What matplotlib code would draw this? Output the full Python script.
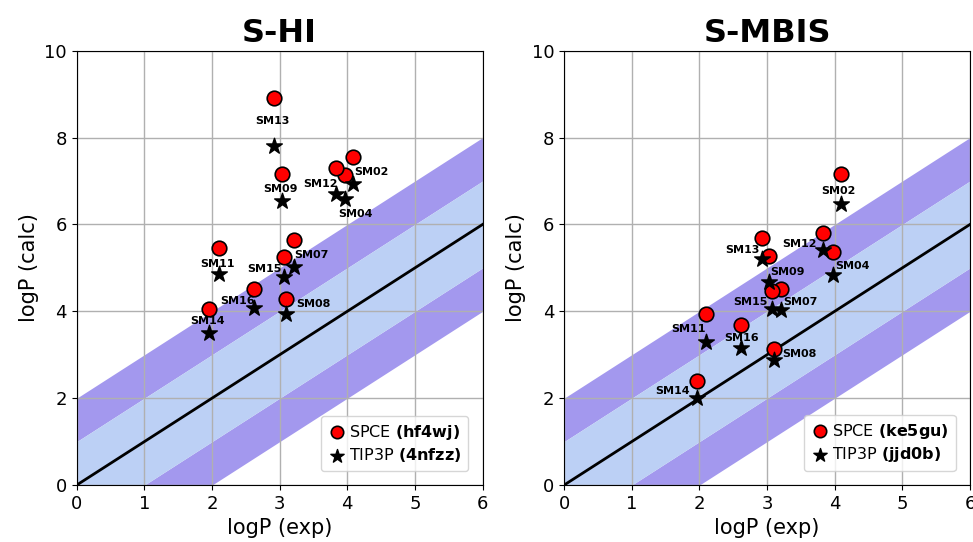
import numpy as np
import matplotlib
matplotlib.use("Agg")
import matplotlib.pyplot as plt

# molecules and experimental logP
names = ["SM02", "SM04", "SM07", "SM08", "SM09", "SM11", "SM12", "SM13", "SM14", "SM15", "SM16"]
logp_exp = [4.09, 3.97, 3.21, 3.10, 3.03, 2.10, 3.83, 2.92, 1.96, 3.07, 2.62]

# S-HI calculated logP
hi_spce = [7.55, 7.14, 5.64, 4.29, 7.17, 5.46, 7.31, 8.90, 4.05, 5.26, 4.51]
hi_tip3p = [6.92, 6.58, 5.01, 3.93, 6.55, 4.85, 6.70, 7.81, 3.49, 4.78, 4.07]

# S-MBIS calculated logP
mbis_spce = [7.17, 5.37, 4.51, 3.14, 5.27, 3.93, 5.80, 5.69, 2.39, 4.47, 3.68]
mbis_tip3p = [6.46, 4.84, 4.03, 2.89, 4.68, 3.30, 5.41, 5.21, 2.00, 4.05, 3.15]

# label offsets (pixels, relative to the SPCE marker)
hi_offsets = {
    "SM02": (18, -15), "SM04": (10, -39), "SM07": (18, -15), "SM08": (27, -5),
    "SM09": (-1, -15), "SM11": (-1, -16), "SM12": (-15, -16), "SM13": (-2, -23),
    "SM14": (-2, -12), "SM15": (-20, -12), "SM16": (-16, -12),
}
mbis_offsets = {
    "SM02": (-2, -17), "SM04": (20, -14), "SM07": (19, -13), "SM08": (26, -5),
    "SM09": (18, -16), "SM11": (-18, -15), "SM12": (-24, -11), "SM13": (-19, -12),
    "SM14": (-24, -10), "SM15": (-21, -11), "SM16": (0, -13),
}

panels = [
    ("S-HI", hi_spce, hi_tip3p, hi_offsets, "hf4wj", "4nfzz"),
    ("S-MBIS", mbis_spce, mbis_tip3p, mbis_offsets, "ke5gu", "jjd0b"),
]

fig = plt.figure(figsize=(9.73, 5.42), dpi=100)
axes = [fig.add_axes([0.0788, 0.105, 0.4172, 0.8015]),
        fig.add_axes([0.5797, 0.105, 0.4172, 0.8015])]

xx = np.linspace(0, 6, 50)
for ax, (title, spce, tip3p, offs, id1, id2) in zip(axes, panels):
    ax.fill_between(xx, xx + 1, xx + 2, color="#a398ee", lw=0)
    ax.fill_between(xx, xx - 2, xx - 1, color="#a398ee", lw=0)
    ax.fill_between(xx, xx - 1, xx + 1, color="#bcd0f5", lw=0)
    ax.plot(xx, xx, color="black", lw=2, zorder=2)
    ax.grid(True, color="#b0b0b0", lw=1)

    ax.scatter(logp_exp, spce, s=110, c="red", edgecolors="black", linewidths=1.2,
               zorder=3, label=r"SPCE $\bf{(%s)}$" % id1)
    ax.scatter(logp_exp, tip3p, s=140, c="black", marker="*", zorder=3,
               label=r"TIP3P $\bf{(%s)}$" % id2)
    for n, x, y in zip(names, logp_exp, spce):
        ax.annotate(n, (x, y), xytext=offs[n], textcoords="offset pixels",
                    ha="center", va="center", fontsize=8, fontweight="bold", zorder=4)

    ax.set_xlim(0, 6)
    ax.set_ylim(0, 10)
    ax.set_xticks(range(0, 7))
    ax.set_yticks(range(0, 11, 2))
    ax.tick_params(labelsize=13)
    ax.set_xlabel("logP (exp)", fontsize=15)
    ax.set_ylabel("logP (calc)", fontsize=15)
    ax.set_title(title, fontsize=23, fontweight="bold")
    ax.legend(loc="lower right", fontsize=11.5, markerscale=0.85, labelspacing=0.3,
              borderaxespad=0.9, handletextpad=0.2, handlelength=1.2)

fig.savefig("out.png", dpi=100)
